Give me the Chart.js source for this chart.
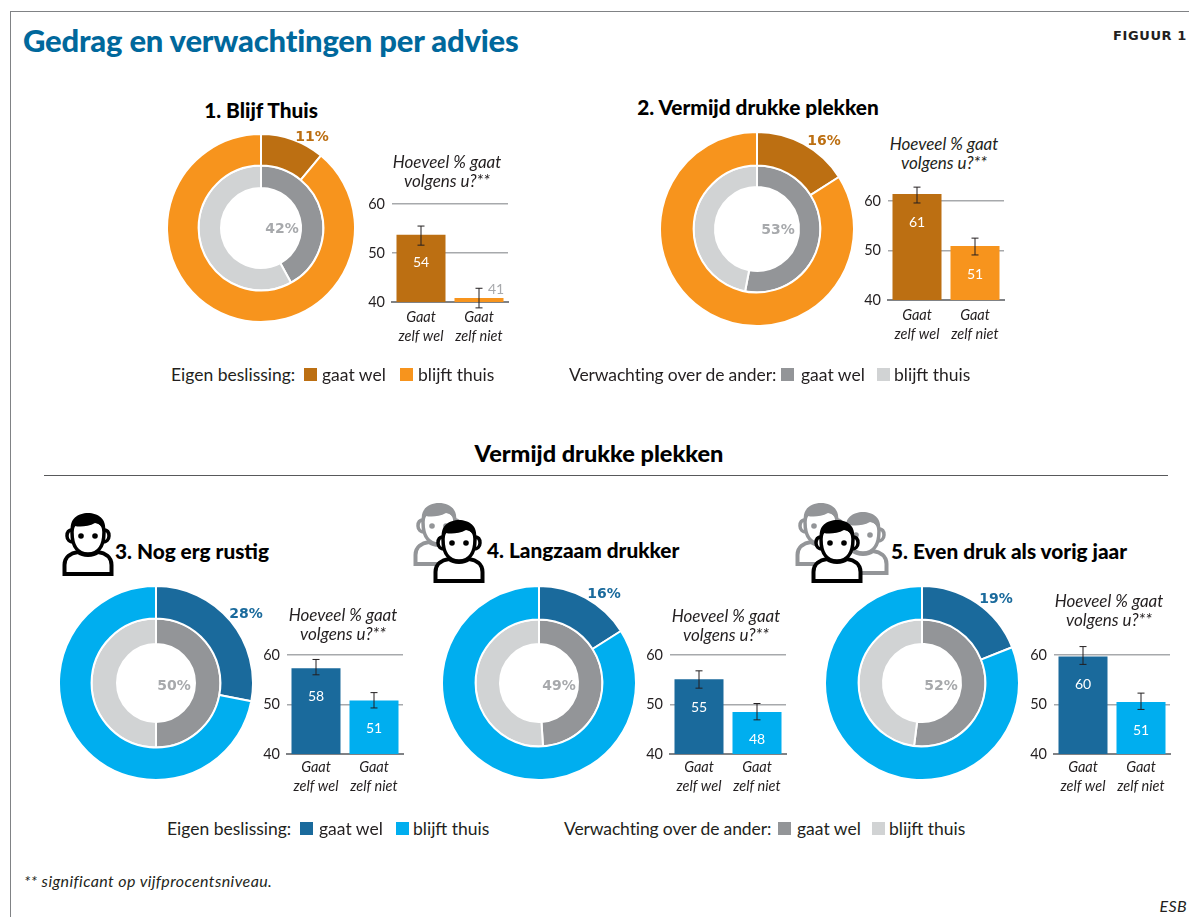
<!DOCTYPE html>
<html lang="nl">
<head>
<meta charset="utf-8">
<title>Gedrag en verwachtingen per advies</title>
<script src="https://cdn.jsdelivr.net/npm/chart.js@4"></script>
<style>
html, body { margin: 0; padding: 0; background: #fff; }
#page { position: relative; width: 1189px; height: 917px; overflow: hidden; font-family: Lato, sans-serif; color: #231f20; }
#page canvas, #page .txt, #page .sw, #page .rule, #page svg.icon { position: absolute; }
.txt { white-space: nowrap; transform: translateY(-50%); line-height: 1; }
.hoofd { font-size: 31px; font-weight: 900; color: #00689c; letter-spacing: -0.2px; }
.figuur { font-family: "DejaVu Sans", sans-serif; font-size: 13px; font-weight: 700; letter-spacing: 0.6px; }
.kop { font-size: 20.8px; font-weight: 900; color: #000; }
.tussenkop { font-size: 23.5px; font-weight: 900; color: #000; }
.leg { font-size: 17.5px; }
.smal { letter-spacing: -0.12px; }
.vraag { font-size: 17px; font-style: italic; text-align: center; line-height: 19px; white-space: pre; }
.voet { font-size: 16px; font-style: italic; letter-spacing: 0.4px; }
.pct { font-family: "DejaVu Sans", sans-serif; font-size: 14px; font-weight: 700; }
.sw { width: 13px; height: 13px; }
</style>
</head>
<body>
<div id="page">
<svg width="0" height="0" style="position:absolute">
  <symbol id="poppetje" viewBox="0 0 52 64">
    <path d="M2.5 62 V53 C2.5 45 9 41 16 40 C21 44 31 44 36 40 C43 41 49.5 45 49.5 53 V62 Z" fill="#fff" stroke="currentColor" stroke-width="4"/>
    <path d="M10 18 C6 18 5 21 5 24 C5 28 8 30 11 30 M42 18 C46 18 47 21 47 24 C47 28 44 30 41 30" fill="#fff" stroke="currentColor" stroke-width="3.5"/>
    <path d="M10 20 C10 36 17 42 26 42 C35 42 42 36 42 20 C42 10 35 8 26 8 C17 8 10 10 10 20 Z" fill="#fff" stroke="currentColor" stroke-width="3.5"/>
    <path d="M9 19 C7 7 16 1 26 1 C36 1 45 7 43 19 C41 15 38 12 33 11 C26 15 17 15 13 14 C11 15 10 17 9 19 Z" fill="currentColor"/>
    <circle cx="19" cy="24" r="2.8" fill="currentColor"/>
    <circle cx="33" cy="24" r="2.8" fill="currentColor"/>
  </symbol>
</svg>
</div>
<script>
// Waarden
const adviezen = ["1. Blijf Thuis", "2. Vermijd drukke plekken", "3. Nog erg rustig", "4. Langzaam drukker", "5. Even druk als vorig jaar"];
const eigenWel = [11, 16, 28, 16, 19];
const eigenThuis = [89, 84, 72, 84, 81];
const anderWel = [42, 53, 50, 49, 52];
const anderThuis = [58, 47, 50, 51, 48];

const staafLabels = [["Gaat", "zelf wel"], ["Gaat", "zelf niet"]];
const asTicks = [40, 50, 60];
const asMax = 65; // ruimte boven de 60-lijn voor staaf 61 en de foutmarges
const staafWel = [53.7, 61.4, 57.3, 55.1, 59.7];
const staafNiet = [40.8, 50.9, 50.8, 48.5, 50.5];
const labelWel = ["54", "61", "58", "55", "60"];
const labelNiet = ["41", "51", "51", "48", "51"];
const welHoog = [55.5, 62.8, 59.1, 56.8, 61.7];
const welLaag = [51.6, 59.6, 56.0, 53.3, 58.1];
const nietHoog = [42.8, 52.5, 52.4, 50.2, 52.3];
const nietLaag = [38.8, 49.1, 49.3, 46.9, 49.0];

const kleurDonker = ["#bc6f12", "#bc6f12", "#1a6a9c", "#1a6a9c", "#1a6a9c"];
const kleurLicht = ["#f7941d", "#f7941d", "#00aeef", "#00aeef", "#00aeef"];
const GRIJS = "#939598", LICHTGRIJS = "#d1d3d4";

// Plaats van de onderdelen per paneel
const ringen = [
    { x: 261, y: 228, r: 93, mid: 62, gat: 40 },
    { x: 757, y: 229, r: 96, mid: 63, gat: 42 },
    { x: 155.5, y: 683, r: 96, mid: 64, gat: 39 },
    { x: 539, y: 683, r: 96, mid: 63, gat: 39 },
    { x: 922, y: 683, r: 96, mid: 63, gat: 39 }
];
const assen = [
    { x: 392, top: 204, bottom: 302, labelAfstand: 6 },
    { x: 888, top: 201, bottom: 300, labelAfstand: 6 },
    { x: 287, top: 655, bottom: 754, labelAfstand: 4 },
    { x: 670, top: 655, bottom: 754, labelAfstand: 4 },
    { x: 1054, top: 655, bottom: 754, labelAfstand: 4 }
];
const koppen = [[261, 110, "center"], [758, 107, "center"], [115, 551, "left"], [487, 550, "left"], [891, 551, "left"]];
const vragen = [[447, 162], [944, 144], [343, 615], [726, 616], [1109, 601]];
const pctBuiten = [[312, 136], [824, 140], [246, 613], [604, 593], [996, 598]];
const pctBinnen = [[282, 228], [778, 229], [174, 685], [559, 685], [941, 685]];

const page = document.getElementById("page");

function zetTekst(x, y, tekst, klasse, kleur, anker) {
    const el = document.createElement("div");
    el.className = "txt " + klasse;
    el.textContent = tekst;
    el.style.top = y + "px";
    if (anker === "center") {
        el.style.left = x + "px";
        el.style.transform = "translate(-50%,-50%)";
    } else if (anker === "right") {
        el.style.right = (1189 - x) + "px";
    } else {
        el.style.left = x + "px";
    }
    if (kleur) el.style.color = kleur;
    page.appendChild(el);
}

function zetBlok(x, y, w, h, kleur, klasse) {
    const el = document.createElement("div");
    el.className = klasse;
    el.style.cssText = `left:${x}px;top:${y}px;width:${w}px;height:${h}px;background:${kleur}`;
    page.appendChild(el);
}

function zetPoppetje(x, y, kleur) {
    const svg = document.createElementNS("http://www.w3.org/2000/svg", "svg");
    svg.setAttribute("class", "icon");
    svg.setAttribute("width", 52);
    svg.setAttribute("height", 64);
    svg.style.left = x + "px";
    svg.style.top = y + "px";
    svg.style.color = kleur;
    const use = document.createElementNS("http://www.w3.org/2000/svg", "use");
    use.setAttribute("href", "#poppetje");
    svg.appendChild(use);
    page.appendChild(svg);
}

function maakCanvas(x, y, w, h) {
    const c = document.createElement("canvas");
    c.width = w;
    c.height = h;
    c.style.left = x + "px";
    c.style.top = y + "px";
    c.style.width = w + "px";
    c.style.height = h + "px";
    page.appendChild(c);
    return c;
}

// Foutmarges en waardelabels bij de staven
const staafExtras = {
    id: "staafExtras",
    afterDatasetsDraw(chart, args, opts) {
        const ctx = chart.ctx;
        const y = chart.scales.y;
        const basis = y.getPixelForValue(asTicks[0]);
        chart.getDatasetMeta(0).data.forEach(function (bar, i) {
            const hoog = y.getPixelForValue(opts.hoog[i]);
            const laag = y.getPixelForValue(opts.laag[i]);
            ctx.save();
            ctx.strokeStyle = "#231f20";
            ctx.lineWidth = 1;
            ctx.beginPath();
            ctx.moveTo(bar.x, hoog);
            ctx.lineTo(bar.x, laag);
            ctx.moveTo(bar.x - 3.5, hoog);
            ctx.lineTo(bar.x + 3.5, hoog);
            ctx.moveTo(bar.x - 3.5, laag);
            ctx.lineTo(bar.x + 3.5, laag);
            ctx.stroke();
            ctx.font = "14px Lato";
            ctx.textAlign = "center";
            ctx.textBaseline = "middle";
            if (basis - bar.y < 30) {
                ctx.fillStyle = "#a7a9ac";
                ctx.fillText(opts.labels[i], bar.x + 17, bar.y - 9);
            } else {
                ctx.fillStyle = "#fff";
                ctx.fillText(opts.labels[i], bar.x, bar.y + 28);
            }
            ctx.restore();
        });
    }
};

function tekenRing(i) {
    const r = ringen[i];
    // Chart.js houdt ruimte aan voor de rand, dus het canvas is iets groter dan de ring
    const c = maakCanvas(r.x - r.r - 2, r.y - r.r - 2, r.r * 2 + 4, r.r * 2 + 4);
    new Chart(c, {
        type: "doughnut",
        data: {
            datasets: [
                {
                    data: [eigenWel[i], eigenThuis[i]],
                    backgroundColor: [kleurDonker[i], kleurLicht[i]],
                    weight: r.r - r.mid
                },
                {
                    data: [anderWel[i], anderThuis[i]],
                    backgroundColor: [GRIJS, LICHTGRIJS],
                    weight: r.mid - r.gat
                }
            ]
        },
        options: {
            responsive: false,
            animation: false,
            cutout: r.gat,
            borderColor: "#fff",
            borderWidth: 2,
            plugins: { legend: { display: false }, tooltip: { enabled: false } }
        }
    });
    zetTekst(pctBuiten[i][0], pctBuiten[i][1], eigenWel[i] + "%", "pct", kleurDonker[i], "center");
    zetTekst(pctBinnen[i][0], pctBinnen[i][1], anderWel[i] + "%", "pct", "#a7a9ac", "center");
}

function tekenStaven(i) {
    const a = assen[i];
    const links = 32, onder = 50;
    const eenheid = (a.bottom - a.top) / (asTicks[2] - asTicks[0]);
    const plotTop = a.top - (asMax - asTicks[2]) * eenheid;
    const canvasTop = Math.floor(plotTop) - 2;
    const c = maakCanvas(a.x - links, canvasTop, links + 118, a.bottom - canvasTop + onder);
    new Chart(c, {
        type: "bar",
        data: {
            labels: staafLabels,
            datasets: [{
                data: [staafWel[i], staafNiet[i]],
                backgroundColor: [kleurDonker[i], kleurLicht[i]],
                barPercentage: 1,
                categoryPercentage: 0.845
            }]
        },
        options: {
            responsive: false,
            animation: false,
            layout: { padding: { top: plotTop - canvasTop, right: 2, left: 0, bottom: 0 } },
            scales: {
                x: {
                    afterFit(s) { s.height = onder; s.paddingLeft = 0; s.paddingRight = 0; },
                    grid: { display: false, drawTicks: false },
                    border: { color: "#808285", width: 2 },
                    ticks: {
                        color: "#231f20",
                        font: { family: "Lato", size: 14.5, style: "italic", lineHeight: 1.3 },
                        padding: a.labelAfstand,
                        maxRotation: 0,
                        autoSkip: false
                    }
                },
                y: {
                    min: asTicks[0],
                    max: asMax,
                    afterFit(s) { s.width = links; s.paddingTop = 0; s.paddingBottom = 0; },
                    afterBuildTicks(s) { s.ticks = asTicks.map(function (v) { return { value: v }; }); },
                    grid: { color: "#a7a9ac", lineWidth: 1.5, drawTicks: false },
                    border: { display: false },
                    ticks: { color: "#231f20", font: { family: "Lato", size: 14.5 }, padding: 7 }
                }
            },
            plugins: {
                legend: { display: false },
                tooltip: { enabled: false },
                staafExtras: {
                    hoog: [welHoog[i], nietHoog[i]],
                    laag: [welLaag[i], nietLaag[i]],
                    labels: [labelWel[i], labelNiet[i]]
                }
            }
        },
        plugins: [staafExtras]
    });
    const v = document.createElement("div");
    v.className = "txt vraag";
    v.textContent = "Hoeveel % gaat\nvolgens u?**";
    v.style.left = vragen[i][0] + "px";
    v.style.top = vragen[i][1] + 9 + "px";
    v.style.transform = "translate(-50%,-50%)";
    page.appendChild(v);
}

function zetLegenda(y, items) {
    items.forEach(function (it) {
        if (it.kleur) {
            zetBlok(it.x, y - 7, 13, 13, it.kleur, "sw");
        } else {
            zetTekst(it.x, y, it.tekst, it.tekst.length > 20 ? "leg smal" : "leg");
        }
    });
}

// Kader en koppen
zetBlok(10, 11, 1179, 1, "#808285", "rule");
zetBlok(10, 11, 1, 906, "#808285", "rule");
zetBlok(44, 475, 1124, 1, "#58595b", "rule");
zetTekst(23, 40, "Gedrag en verwachtingen per advies", "hoofd");
zetTekst(1187, 35, "FIGUUR 1", "figuur", null, "right");
zetTekst(599, 454, "Vermijd drukke plekken", "tussenkop", null, "center");

// Poppetjes
zetPoppetje(62, 512, "#000");
zetPoppetje(413, 502, GRIJS);
zetPoppetje(433, 519, "#000");
zetPoppetje(795, 502, GRIJS);
zetPoppetje(837, 511, GRIJS);
zetPoppetje(811, 519, "#000");

adviezen.forEach(function (kop, i) {
    zetTekst(koppen[i][0], koppen[i][1], kop, "kop", null, koppen[i][2]);
    tekenRing(i);
    tekenStaven(i);
});

zetLegenda(375, [
    { x: 171, tekst: "Eigen beslissing:" },
    { x: 304, kleur: kleurDonker[0] }, { x: 322, tekst: "gaat wel" },
    { x: 400, kleur: kleurLicht[0] }, { x: 418, tekst: "blijft thuis" },
    { x: 569, tekst: "Verwachting over de ander:" },
    { x: 781, kleur: GRIJS }, { x: 801, tekst: "gaat wel" },
    { x: 877, kleur: LICHTGRIJS }, { x: 894, tekst: "blijft thuis" }
]);
zetLegenda(829, [
    { x: 167, tekst: "Eigen beslissing:" },
    { x: 300, kleur: kleurDonker[2] }, { x: 319, tekst: "gaat wel" },
    { x: 396, kleur: kleurLicht[2] }, { x: 413, tekst: "blijft thuis" },
    { x: 564, tekst: "Verwachting over de ander:" },
    { x: 778, kleur: GRIJS }, { x: 797, tekst: "gaat wel" },
    { x: 872, kleur: LICHTGRIJS }, { x: 889, tekst: "blijft thuis" }
]);

zetTekst(24, 881, "** significant op vijfprocentsniveau.", "voet");
zetTekst(1187, 906, "ESB", "voet", null, "right");
</script>
</body>
</html>
